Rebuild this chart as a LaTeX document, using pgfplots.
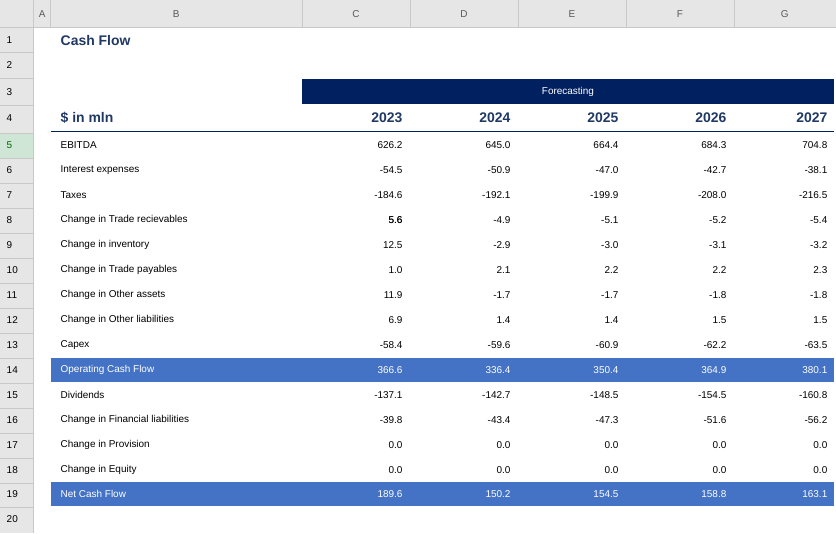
\documentclass[border=0pt]{standalone}
\usepackage{pgfplots}
\pgfplotsset{compat=1.18}
\usepackage{fontspec}
\setmainfont{Liberation Sans}
\definecolor{hdr}{HTML}{E6E6E6}
\definecolor{hline}{HTML}{C8C8C8}
\definecolor{navy}{HTML}{002060}
\definecolor{tnavy}{HTML}{1F3864}
\definecolor{blu}{HTML}{4472C4}
\definecolor{sel}{HTML}{CFE5D5}
\newcommand{\R}[8]{%
  \node[anchor=west,text=#8] at (axis cs:57,#1) {#2};
  \node[anchor=east,text=#8] at (axis cs:406,#1) {#3};
  \node[anchor=east,text=#8] at (axis cs:514,#1) {#4};
  \node[anchor=east,text=#8] at (axis cs:622,#1) {#5};
  \node[anchor=east,text=#8] at (axis cs:730,#1) {#6};
  \node[anchor=east,text=#8] at (axis cs:831,#1) {#7};}
\newcommand{\RN}[2]{\node[anchor=west] at (axis cs:3,#1) {#2};}
\begin{document}
\begin{tikzpicture}
\begin{axis}[scale only axis, width=836bp, height=533bp, xmin=0, xmax=836, ymin=0, ymax=533,
  y dir=reverse, hide axis, clip=false,
  every node/.style={font=\fontsize{14}{16}\selectfont, text height=10pt, text depth=3pt, inner sep=0pt}]
\fill[hdr] (axis cs:0,0) rectangle (axis cs:836,27);
\fill[hdr] (axis cs:0,0) rectangle (axis cs:33,533);
\fill[sel] (axis cs:0,133) rectangle (axis cs:33,158);
\draw[hline] (axis cs:0,27) -- (axis cs:836,27);
\draw[hline] (axis cs:33,0) -- (axis cs:33,533);
\pgfplotsinvokeforeach{50,302,410,518,626,734}{\draw[hline] (axis cs:#1,0) -- (axis cs:#1,27);}
\pgfplotsinvokeforeach{52,78,105,133,158,183,208,233,258,283,308,333,358,383,408,433,458,483,507}{\draw[hline] (axis cs:0,#1) -- (axis cs:33,#1);}
\node[gray!70!black] at (axis cs:42,14) {A};
\node[gray!70!black] at (axis cs:176,14) {B};
\node[gray!70!black] at (axis cs:356,14) {C};
\node[gray!70!black] at (axis cs:464,14) {D};
\node[gray!70!black] at (axis cs:572,14) {E};
\node[gray!70!black] at (axis cs:680,14) {F};
\node[gray!70!black] at (axis cs:785,14) {G};
\RN{40}{1}\RN{65}{2}\RN{92}{3}\RN{118}{4}
\node[anchor=west,text=green!40!black] at (axis cs:3,145) {5};
\RN{170}{6}\RN{195}{7}\RN{220}{8}\RN{245}{9}\RN{270}{10}\RN{295}{11}\RN{320}{12}
\RN{345}{13}\RN{370}{14}\RN{395}{15}\RN{420}{16}\RN{445}{17}\RN{470}{18}\RN{494}{19}\RN{519}{20}
\fill[navy] (axis cs:302,79) rectangle (axis cs:834,104);
\fill[blu] (axis cs:51,358) rectangle (axis cs:834,382);
\fill[blu] (axis cs:51,482) rectangle (axis cs:834,506);
\draw[navy, line width=1pt] (axis cs:51,131) -- (axis cs:834,131);
\node[text=white] at (axis cs:568,92) {Forecasting};
\node[anchor=west,text=tnavy,font=\fontsize{14}{16}\selectfont\bfseries] at (axis cs:57,40) {Cash Flow};
\node[anchor=west,text=tnavy,font=\fontsize{14}{16}\selectfont\bfseries] at (axis cs:57,118) {\$ in mln};
\node[anchor=east,text=tnavy,font=\fontsize{14}{16}\selectfont\bfseries] at (axis cs:406,118) {2023};
\node[anchor=east,text=tnavy,font=\fontsize{14}{16}\selectfont\bfseries] at (axis cs:514,118) {2024};
\node[anchor=east,text=tnavy,font=\fontsize{14}{16}\selectfont\bfseries] at (axis cs:622,118) {2025};
\node[anchor=east,text=tnavy,font=\fontsize{14}{16}\selectfont\bfseries] at (axis cs:730,118) {2026};
\node[anchor=east,text=tnavy,font=\fontsize{14}{16}\selectfont\bfseries] at (axis cs:831,118) {2027};
\R{145}{EBITDA}{626.2}{645.0}{664.4}{684.3}{704.8}{black}
\R{170}{Interest expenses}{-54.5}{-50.9}{-47.0}{-42.7}{-38.1}{black}
\R{195}{Taxes}{-184.6}{-192.1}{-199.9}{-208.0}{-216.5}{black}
\R{220}{Change in Trade recievables}{5.6}{-4.9}{-5.1}{-5.2}{-5.4}{black}
\R{245}{Change in inventory}{12.5}{-2.9}{-3.0}{-3.1}{-3.2}{black}
\R{270}{Change in Trade payables}{1.0}{2.1}{2.2}{2.2}{2.3}{black}
\R{295}{Change in Other assets}{11.9}{-1.7}{-1.7}{-1.8}{-1.8}{black}
\R{320}{Change in Other liabilities}{6.9}{1.4}{1.4}{1.5}{1.5}{black}
\R{345}{Capex}{-58.4}{-59.6}{-60.9}{-62.2}{-63.5}{black}
\R{370}{Operating Cash Flow}{366.6}{336.4}{350.4}{364.9}{380.1}{white}
\R{395}{Dividends}{-137.1}{-142.7}{-148.5}{-154.5}{-160.8}{black}
\R{420}{Change in Financial liabilities}{-39.8}{-43.4}{-47.3}{-51.6}{-56.2}{black}
\R{445}{Change in Provision}{0.0}{0.0}{0.0}{0.0}{0.0}{black}
\R{470}{Change in Equity}{0.0}{0.0}{0.0}{0.0}{0.0}{black}
\R{494}{Net Cash Flow}{189.6}{150.2}{154.5}{158.8}{163.1}{white}
\fill[white] (axis cs:302.5,208) rectangle (axis cs:345,232);
\node[anchor=east] at (axis cs:406,220) {5.6};
\end{axis}
\end{tikzpicture}
\end{document}
